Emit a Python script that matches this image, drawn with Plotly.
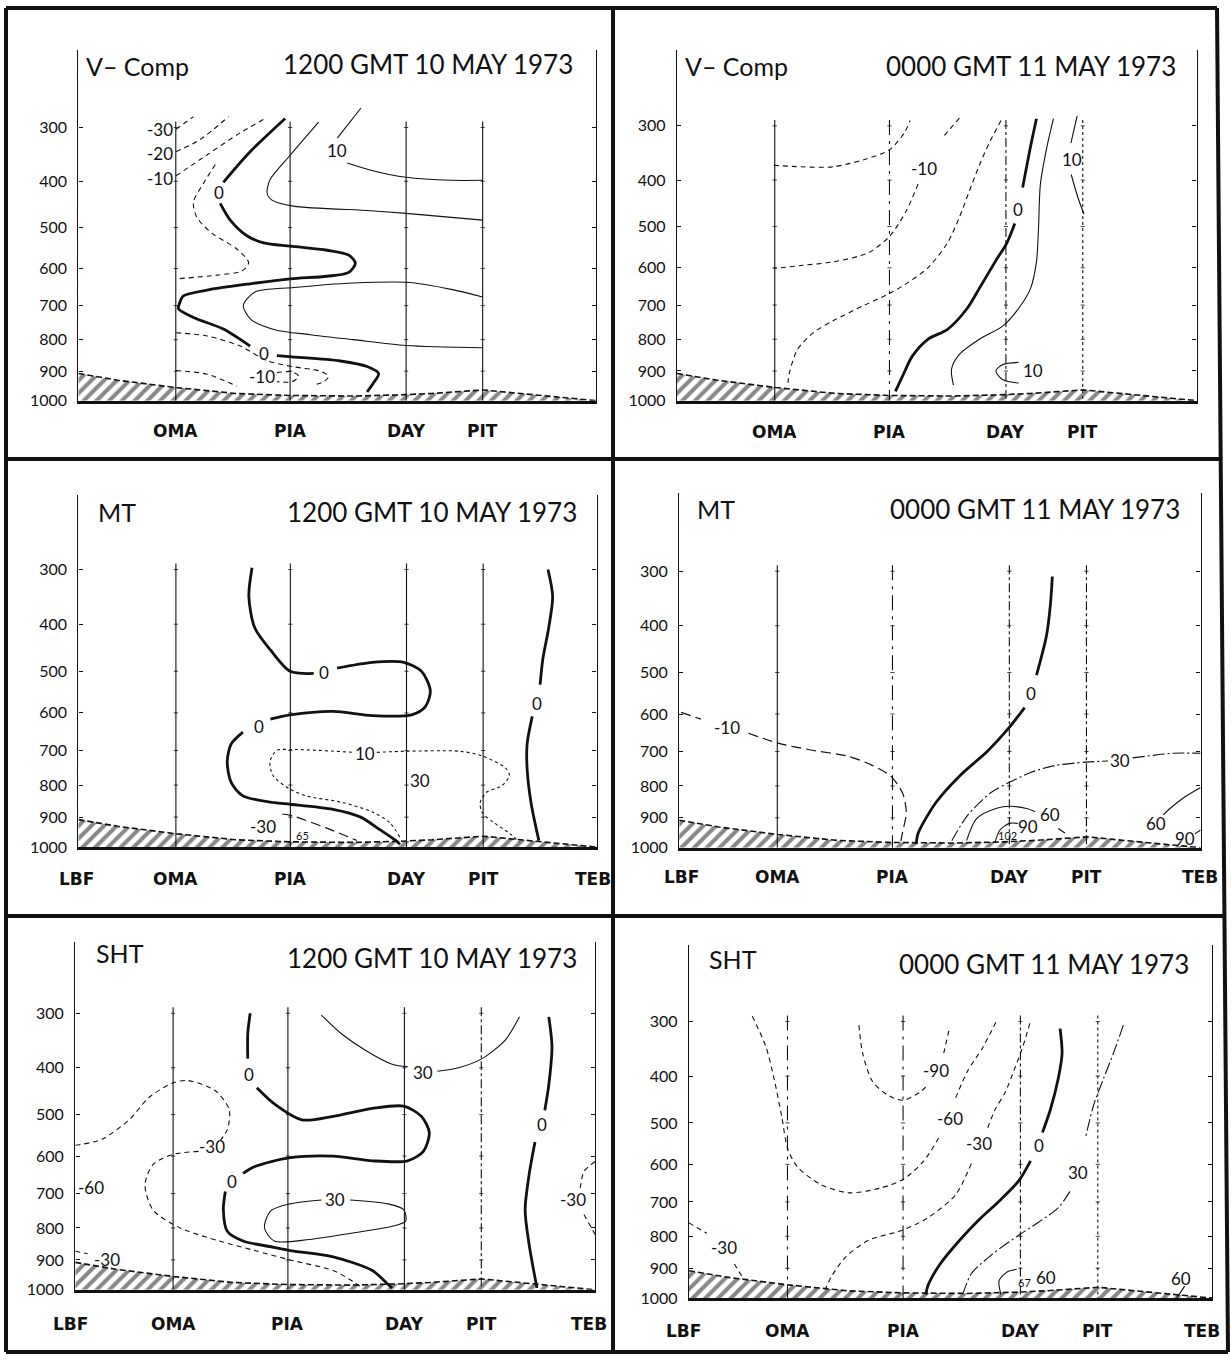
import plotly.graph_objects as go

W, H = 1231, 1369

# ---------------- data ----------------
STATIONS = ["LBF", "OMA", "PIA", "DAY", "PIT", "TEB"]
STATION_KM = [0, 397, 863, 1336, 1648, 2110]
LEVELS = [300, 400, 500, 600, 700, 800, 900, 1000]
TERRAIN_KM = [0, 160, 400, 640, 860, 1120, 1310, 1440, 1650, 1760, 1920, 2110]
TERRAIN_P = [908, 930, 955, 975, 982, 984, 980, 975, 963, 972, 985, 1000]

FIELDS = ["V\u2013 Comp", "V\u2013 Comp", "MT", "MT", "SHT", "SHT"]
TIMES = ["1200 GMT 10 MAY 1973", "0000 GMT 11 MAY 1973",
         "1200 GMT 10 MAY 1973", "0000 GMT 11 MAY 1973",
         "1200 GMT 10 MAY 1973", "0000 GMT 11 MAY 1973"]

# ---- panel 1: V-comp 1200 GMT ----
P1_ZERO_KM = [843, 700, 591, None, 578, 619, 687, 755, 864, 1014, 1102, 1129, 1102, 1014, 864, 700, 524, 428, 412, 408, 469, 591, 700, None, 809, 871, 1068, 1177, 1224, 1204, 1177]
P1_ZERO_P = [285, 343, 402, None, 446, 483, 519, 536, 544, 554, 566, 586, 610, 620, 627, 640, 657, 673, 694, 709, 734, 768, 820, None, 850, 854, 867, 885, 908, 938, 970]
P1_M30_KM = [398, 469]
P1_M30_P = [303, 282]
P1_M20_KM = [398, 496, 612]
P1_M20_P = [343, 321, 282]
P1_M10_KM = [398, 524, 660, 762]
P1_M10_P = [389, 349, 309, 285]
P1_LOOP_KM = [558, 510, 469, 483, 544, 646, 694, 667, 564, 398]
P1_LOOP_P = [367, 404, 443, 477, 513, 551, 585, 606, 617, 627]
P1_LOW1_KM = [398, 524, 660, 769, 871, 986, 1020, 1000, 959]
P1_LOW1_P = [779, 789, 820, 866, 885, 900, 917, 935, 946]
P1_LOW2_KM = [398, 524, 646]
P1_LOW2_P = [898, 910, 950]
P1_SMALL_KM = [809, 871, 898, 871, 809]
P1_SMALL_P = [905, 902, 917, 935, 935]
P1_TENA_KM = [979, 864, 782, 769, 789, 877, 1190, 1336, 1648]
P1_TENA_P = [291, 349, 396, 424, 439, 452, 462, 468, 483]
P1_TENB_KM = [1152, 1056, None, 1096, 1200, 1336, 1520, 1648]
P1_TENB_P = [268, 318, None, 364, 379, 392, 398, 398]
P1_TENC_KM = [1648, 1520, 1336, 1120, 880, 720, 672, 704, 800, 944, 1120, 1336, 1648]
P1_TENC_P = [676, 655, 636, 638, 650, 662, 700, 740, 770, 785, 800, 818, 825]
P1_LBL_TEXT = ["-30", "-20", "-10", "0", "10", "0", "-10"]
P1_LBL_KM = [333, 333, 333, 575, 1056, 758, 748]
P1_LBL_P = [303, 346, 395, 424, 340, 842, 918]

# ---- panel 2: V-comp 0000 GMT ----
P2_A_KM = [393, 505, 634, 762, 863, 923, 947]
P2_A_P = [371, 374, 374, 360, 342, 312, 291]
P2_B_KM = [1147, 1083, None, 979, 931, 863, 778, 634, 505, 393]
P2_B_P = [287, 318, None, 408, 465, 523, 562, 585, 594, 602]
P2_C_KM = [1316, 1268, 1228, 1187, 1147, 1099, 1019, 923, 863, 762, 634, 554, 489, 457, 449]
P2_C_P = [291, 330, 371, 423, 479, 538, 600, 645, 668, 700, 745, 780, 832, 905, 953]
P2_ZERO_KM = [1460, 1436, 1404, None, 1372, 1340, 1292, 1228, 1179, 1099, 1019, 955, 923, 887]
P2_ZERO_P = [288, 336, 415, None, 493, 538, 585, 654, 709, 770, 800, 853, 905, 968]
P2_TEN_KM = [1529, 1500, 1476, 1468, 1460, 1436, 1388, 1324, 1228, 1147, 1115, 1123]
P2_TEN_P = [288, 342, 408, 508, 585, 654, 709, 760, 800, 847, 894, 947]
P2_LOOP_KM = [1388, 1324, 1295, 1324, 1388]
P2_LOOP_P = [872, 879, 900, 929, 940]
P2_PIT_KM = [1625, 1600, None, 1601, 1629, 1653]
P2_PIT_P = [284, 330, None, 389, 437, 472]
P2_LBL_TEXT = ["-10", "0", "10", "10"]
P2_LBL_KM = [1003, 1385, 1444, 1606]
P2_LBL_P = [378, 461, 900, 360]

# ---- panel 3: MT 1200 GMT ----
P3_ZEROA_KM = [707, 694, 718, 782, 862, 958, None, 1053, 1197, 1325, 1397, 1433, 1412, 1357, 1197, 1037, 862, 782, None, 670, 622, 606, 622, 670, 798, 862, 1037, 1149, 1229, 1293, 1309]
P3_ZEROA_P = [297, 347, 407, 453, 500, 505, None, 493, 480, 480, 500, 546, 585, 605, 607, 596, 605, 616, None, 650, 682, 731, 792, 833, 854, 859, 875, 900, 942, 978, 990]
P3_ZEROB_KM = [1912, 1931, 1915, 1891, 1880, None, 1848, 1827, 1827, 1843, 1875]
P3_ZEROB_P = [300, 347, 407, 473, 531, None, 609, 682, 751, 854, 978]
P3_TEN_KM = [1309, 1268, 1201, 1079, 929, 861, 793, 780, 807, 868, 1120, None, 1215, 1336, 1553, 1644, 1740, 1755, 1724, 1660, 1636, 1644, 1692, 1755, 1795]
P3_TEN_P = [966, 918, 885, 854, 833, 812, 772, 731, 700, 697, 705, None, 705, 702, 702, 715, 750, 772, 802, 823, 854, 885, 918, 953, 983]
P3_M30_KM = [830, 868, 1011, 1133]
P3_M30_P = [890, 895, 936, 977]
P3_LBL_TEXT = ["0", "0", "0", "10", "30", "-30", "65"]
P3_LBL_KM = [1002, 734, 1867, 1167, 1390, 751, 912]
P3_LBL_P = [502, 635, 577, 708, 787, 930, 960]

# ---- panel 4: MT 0000 GMT ----
P4_M10_KM = [8, 88, None, 280, 400, 527, 687, 783, 855, 903, 919, 903, 895]
P4_M10_P = [596, 613, None, 650, 677, 695, 714, 740, 770, 820, 882, 951, 988]
P4_ZERO_KM = [1510, 1502, 1486, 1446, None, 1398, 1334, 1246, 1135, 1039, 967, 959]
P4_ZERO_P = [309, 360, 421, 506, None, 584, 636, 700, 770, 851, 951, 988]
P4_THIRTY_KM = [1103, 1167, 1262, 1334, 1422, 1518, 1646, 1735, None, 1835, 1998, 2110]
P4_THIRTY_P = [976, 892, 820, 790, 760, 740, 730, 727, None, 718, 705, 705]
P4_SIXTY_KM = [1163, 1204, 1285, 1338, 1406, 1440, None, 1534, 1561]
P4_SIXTY_P = [976, 902, 869, 863, 870, 880, None, 935, 950]
P4_NINETY_KM = [1278, 1298, 1336, 1370]
P4_NINETY_P = [982, 940, 918, 918]
P4_RSIXTY_KM = [2110, 2040, 1986, 1959]
P4_RSIXTY_P = [805, 837, 870, 890]
P4_RNINETY_KM = [2110, 2087]
P4_RNINETY_P = [940, 953]
P4_LBL_TEXT = ["-10", "0", "30", "60", "90", "102", "60", "90"]
P4_LBL_KM = [192, 1422, 1782, 1500, 1410, 1328, 1929, 2047]
P4_LBL_P = [636, 549, 725, 890, 930, 958, 918, 970]

# ---- panel 5: SHT 1200 GMT ----
P5_ZEROA_KM = [710, 700, 700, None, 737, 808, 920, 1047, 1206, 1333, 1405, 1437, 1413, 1349, 1206, 1047, 872, 729, 681, None, 609, 601, 617, 681, 808, 872, 1047, 1206, 1270, 1286]
P5_ZEROA_P = [300, 335, 382, None, 441, 476, 512, 504, 486, 481, 504, 542, 588, 612, 612, 600, 604, 627, 645, None, 694, 746, 810, 840, 860, 870, 890, 935, 982, 994]
P5_ZEROB_KM = [1922, 1935, 1922, 1906, None, 1866, 1842, 1826, 1842, 1874]
P5_ZEROB_P = [306, 359, 435, 490, None, 565, 649, 746, 850, 994]
P5_THIRTYA_KM = [999, 1079, 1174, 1286, 1350, None, 1470, 1556, 1651, 1747, 1803]
P5_THIRTYA_P = [303, 335, 365, 393, 398, None, 407, 400, 382, 346, 306]
P5_THIRTYB_KM = [1000, 872, 792, 768, 808, 951, 1126, 1286, 1341, 1333, 1270, 1115]
P5_THIRTYB_P = [718, 729, 750, 800, 840, 835, 815, 795, 779, 746, 729, 718]
P5_M30_KM = [0, 108, 220, 299, 395, 458, 570, 625, 617, 590, None, 500, 395, 315, 283, 315, 426, 585, 729, 872, 1047, 1126, 1166]
P5_M30_P = [573, 558, 511, 462, 431, 426, 448, 489, 535, 560, None, 588, 596, 622, 675, 746, 800, 840, 870, 900, 935, 971, 994]
P5_M30L_KM = [0, 50]
P5_M30L_P = [872, 880]
P5_M30R_KM = [2110, 2065, 2049, None, 2065, 2110]
P5_M30R_P = [614, 640, 690, None, 760, 820]
P5_LBL_TEXT = ["0", "0", "0", "30", "30", "-30", "-60", "-30", "-30"]
P5_LBL_KM = [705, 636, 1893, 1410, 1055, 554, 64, 129, 2022]
P5_LBL_P = [414, 667, 523, 410, 718, 577, 684, 900, 718]

# ---- panel 6: SHT 0000 GMT ----
P6_M60_KM = [255, 310, 342, 374, 398, 438, 533, 645, 772, 863, 947, 1011, None, 1075, 1122, 1186, 1242]
P6_M60_P = [291, 344, 403, 486, 561, 607, 653, 675, 662, 639, 591, 530, None, 445, 391, 344, 297]
P6_M90_KM = [685, 700, 740, 804, 863, 931, 963, None, 1027, 1051]
P6_M90_P = [306, 356, 411, 440, 450, 433, 418, None, 356, 309]
P6_M30_KM = [1374, 1345, 1313, 1274, 1234, 1202, None, 1138, 1075, 963, 863, 724, 629, 573, 549]
P6_M30_P = [303, 345, 385, 434, 470, 515, None, 598, 680, 745, 781, 812, 866, 929, 971]
P6_ZERO_KM = [1496, 1504, 1489, 1457, 1425, None, 1377, 1329, 1250, 1170, 1091, 1011, 963, 955]
P6_ZERO_P = [312, 356, 404, 470, 522, None, 591, 643, 698, 750, 812, 888, 958, 988]
P6_THIRTY_KM = [1751, 1711, 1672, 1632, 1600, None, 1536, 1489, 1409, 1329, 1218, 1138, 1106]
P6_THIRTY_P = [306, 356, 404, 459, 530, None, 671, 716, 758, 797, 858, 918, 982]
P6_SIXTY_KM = [1258, 1250, 1282, 1321]
P6_SIXTY_P = [988, 941, 912, 903]
P6_RSIXTY_KM = [1998, 1966]
P6_RSIXTY_P = [959, 1000]
P6_M30L_KM = [0, 72, None, 183, 215]
P6_M30L_P = [760, 791, None, 886, 929]
P6_LBL_TEXT = ["-90", "-60", "-30", "0", "30", "67", "60", "60", "-30"]
P6_LBL_KM = [995, 1051, 1170, 1409, 1568, 1353, 1441, 1982, 143]
P6_LBL_P = [389, 490, 549, 552, 621, 946, 929, 935, 834]

# ---------------- styles / layout ----------------
STYLE = {
    "thick": dict(width=2.8, dash="solid"),
    "thin": dict(width=1.1, dash="solid"),
    "dash": dict(width=1.1, dash="5px,4px"),
    "longdash": dict(width=1.2, dash="10px,5px"),
    "dot": dict(width=1.1, dash="3px,3px"),
    "dashdot": dict(width=1.1, dash="12px,3px,2px,3px"),
}

PANEL_CONTOURS = [
    [(P1_ZERO_KM, P1_ZERO_P, "thick"), (P1_M30_KM, P1_M30_P, "dash"), (P1_M20_KM, P1_M20_P, "dash"),
     (P1_M10_KM, P1_M10_P, "dash"), (P1_LOOP_KM, P1_LOOP_P, "dash"), (P1_LOW1_KM, P1_LOW1_P, "dash"),
     (P1_LOW2_KM, P1_LOW2_P, "dash"), (P1_SMALL_KM, P1_SMALL_P, "dash"), (P1_TENA_KM, P1_TENA_P, "thin"),
     (P1_TENB_KM, P1_TENB_P, "thin"), (P1_TENC_KM, P1_TENC_P, "thin")],
    [(P2_A_KM, P2_A_P, "dash"), (P2_B_KM, P2_B_P, "dash"), (P2_C_KM, P2_C_P, "dash"),
     (P2_ZERO_KM, P2_ZERO_P, "thick"), (P2_TEN_KM, P2_TEN_P, "thin"), (P2_LOOP_KM, P2_LOOP_P, "thin"),
     (P2_PIT_KM, P2_PIT_P, "thin")],
    [(P3_ZEROA_KM, P3_ZEROA_P, "thick"), (P3_ZEROB_KM, P3_ZEROB_P, "thick"), (P3_TEN_KM, P3_TEN_P, "dot"),
     (P3_M30_KM, P3_M30_P, "longdash")],
    [(P4_M10_KM, P4_M10_P, "longdash"), (P4_ZERO_KM, P4_ZERO_P, "thick"), (P4_THIRTY_KM, P4_THIRTY_P, "dashdot"),
     (P4_SIXTY_KM, P4_SIXTY_P, "thin"), (P4_NINETY_KM, P4_NINETY_P, "thin"), (P4_RSIXTY_KM, P4_RSIXTY_P, "thin"),
     (P4_RNINETY_KM, P4_RNINETY_P, "thin")],
    [(P5_ZEROA_KM, P5_ZEROA_P, "thick"), (P5_ZEROB_KM, P5_ZEROB_P, "thick"), (P5_THIRTYA_KM, P5_THIRTYA_P, "thin"),
     (P5_THIRTYB_KM, P5_THIRTYB_P, "thin"), (P5_M30_KM, P5_M30_P, "dash"), (P5_M30L_KM, P5_M30L_P, "dash"),
     (P5_M30R_KM, P5_M30R_P, "dash")],
    [(P6_M60_KM, P6_M60_P, "dash"), (P6_M90_KM, P6_M90_P, "dash"), (P6_M30_KM, P6_M30_P, "dash"),
     (P6_ZERO_KM, P6_ZERO_P, "thick"), (P6_THIRTY_KM, P6_THIRTY_P, "dashdot"), (P6_SIXTY_KM, P6_SIXTY_P, "thin"),
     (P6_RSIXTY_KM, P6_RSIXTY_P, "thin"), (P6_M30L_KM, P6_M30L_P, "dash")],
]
PANEL_LABELS = [
    (P1_LBL_TEXT, P1_LBL_KM, P1_LBL_P), (P2_LBL_TEXT, P2_LBL_KM, P2_LBL_P),
    (P3_LBL_TEXT, P3_LBL_KM, P3_LBL_P), (P4_LBL_TEXT, P4_LBL_KM, P4_LBL_P),
    (P5_LBL_TEXT, P5_LBL_KM, P5_LBL_P), (P6_LBL_TEXT, P6_LBL_KM, P6_LBL_P),
]
SMALL_LABELS = {"65", "102", "67"}

# pixel geometry of each panel (layout only); ldx/rdx: LBF/TEB label offsets in px
GEOM = [
    dict(xl=78.4, xr=596.0, yt=50.0, y300=128.3, y1000=403.3, fy=66, ty=64, fx=84, txr=575, sy=434, ldx=0, rdx=0),
    dict(xl=677.0, xr=1196.5, yt=50.0, y300=126.7, y1000=403.3, fy=66, ty=66, fx=683, txr=1178, sy=435, ldx=0, rdx=0),
    dict(xl=78.4, xr=596.6, yt=498.3, y300=573.3, y1000=852.7, fy=515, ty=515, fx=96, txr=579, sy=885, ldx=-2, rdx=-4),
    dict(xl=679.2, xr=1200.6, yt=496.7, y300=575.0, y1000=853.3, fy=512, ty=512, fx=695, txr=1182, sy=883, ldx=2, rdx=-1),
    dict(xl=75.3, xr=595.1, yt=948.3, y300=1020.0, y1000=1298.3, fy=959, ty=964, fx=94, txr=579, sy=1333, ldx=-5, rdx=-6),
    dict(xl=689.0, xr=1212.4, yt=951.7, y300=1028.3, y1000=1306.7, fy=965, ty=970, fx=707, txr=1191, sy=1340, ldx=-6, rdx=-10),
]
STATION_LINE_DASH = [
    ["solid", "solid", "solid", "solid"],
    ["solid", "longdashdot", "dashdot", "dot"],
    ["solid", "solid", "solid", "solid"],
    ["solid", "longdashdot", "dashdot", "dashdot"],
    ["solid", "solid", "solid", "dashdot"],
    ["longdashdot", "longdashdot", "dashdot", "dot"],
]
STATION_LABELS_SHOWN = [
    ["OMA", "PIA", "DAY", "PIT"], ["OMA", "PIA", "DAY", "PIT"],
    STATIONS, STATIONS, STATIONS, STATIONS,
]

FONT = "Lato, 'Open Sans', sans-serif"
INK = "#111111"


def tp(p):
    return None if p is None else p ** 0.4


def px_x(x):
    return x / W


def px_y(y):
    return 1 - y / H


fig = go.Figure()
layout = dict(
    width=W, height=H, margin=dict(l=0, r=0, t=0, b=0),
    paper_bgcolor="white", plot_bgcolor="rgba(0,0,0,0)",
    showlegend=False, hovermode=False,
)
annotations = []
shapes = []

for i, g in enumerate(GEOM):
    n = i + 1
    xa, ya = f"x{n}", f"y{n}"
    s = (tp(1000) - tp(300)) / (g["y1000"] - g["y300"])
    t_top = tp(300) - s * (g["y300"] - g["yt"])
    layout[f"xaxis{n}"] = dict(
        domain=[px_x(g["xl"]), px_x(g["xr"])], range=[0, STATION_KM[-1]],
        anchor=ya, showline=True, linewidth=2.6, linecolor=INK, mirror=False,
        showgrid=False, zeroline=False, showticklabels=False, ticks="",
    )
    layout[f"yaxis{n}"] = dict(
        domain=[px_y(g["y1000"]), px_y(g["yt"])], range=[tp(1000), t_top],
        anchor=xa, showline=True, linewidth=1.4, linecolor=INK, mirror="ticks",
        showgrid=False, zeroline=False, ticks="inside", ticklen=4, tickwidth=1,
        tickcolor=INK, tickvals=[tp(p) for p in LEVELS], ticktext=[str(p) for p in LEVELS],
        tickfont=dict(family=FONT, size=16, color=INK), ticklabelstandoff=7,
    )

    # terrain hatch
    fig.add_trace(go.Scatter(
        x=TERRAIN_KM + [STATION_KM[-1], 0], y=[tp(p) for p in TERRAIN_P] + [tp(1000), tp(1000)],
        xaxis=xa, yaxis=ya, mode="lines", fill="toself", line=dict(width=0),
        fillcolor="white",
        fillpattern=dict(shape="/", size=9, solidity=0.45, fgcolor=INK, bgcolor="white"),
    ))
    fig.add_trace(go.Scatter(
        x=TERRAIN_KM, y=[tp(p) for p in TERRAIN_P], xaxis=xa, yaxis=ya, mode="lines",
        line=dict(color=INK, width=1.6, dash="6px,3px"),
    ))

    # station verticals with faint level ticks
    for k, st in enumerate(["OMA", "PIA", "DAY", "PIT"]):
        km = STATION_KM[STATIONS.index(st)]
        fig.add_trace(go.Scatter(
            x=[km, km], y=[tp(290), tp(1000)], xaxis=xa, yaxis=ya, mode="lines",
            line=dict(color=INK, width=1.1, dash=STATION_LINE_DASH[i][k]),
        ))
        fig.add_trace(go.Scatter(
            x=[km] * (len(LEVELS) - 1), y=[tp(p) for p in LEVELS[:-1]], xaxis=xa, yaxis=ya,
            mode="markers", marker=dict(symbol="line-ew", size=3, line=dict(color=INK, width=0.8)),
        ))

    # contours
    for kms, ps, sty in PANEL_CONTOURS[i]:
        st = STYLE[sty]
        fig.add_trace(go.Scatter(
            x=kms, y=[tp(p) for p in ps], xaxis=xa, yaxis=ya, mode="lines",
            line=dict(color=INK, width=st["width"], dash=st["dash"], shape="spline", smoothing=0.8),
            connectgaps=False,
        ))

    # contour labels
    txts, kms, ps = PANEL_LABELS[i]
    for t, km, p in zip(txts, kms, ps):
        annotations.append(dict(
            x=km, y=tp(p), xref=xa, yref=ya, text=t, showarrow=False,
            xanchor="center", yanchor="middle",
            font=dict(family=FONT, size=11 if t in SMALL_LABELS else 17, color=INK),
        ))

    # station labels
    for st in STATION_LABELS_SHOWN[i]:
        km = STATION_KM[STATIONS.index(st)]
        frac = km / STATION_KM[-1]
        xpx = g["xl"] + frac * (g["xr"] - g["xl"])
        if st == "LBF":
            xpx += g["ldx"]
        elif st == "TEB":
            xpx += g["rdx"]
        annotations.append(dict(
            x=px_x(xpx), y=px_y(g["sy"]), xref="paper", yref="paper", text=f"<b>{st}</b>",
            xanchor="center", yanchor="middle",
            showarrow=False, font=dict(family="'DejaVu Sans', sans-serif", size=17, color=INK),
        ))

    # panel titles
    annotations.append(dict(
        x=px_x(g["fx"]), y=px_y(g["fy"]), xref="paper", yref="paper", text=FIELDS[i],
        xanchor="left", yanchor="middle", showarrow=False,
        font=dict(family=FONT, size=25, color=INK),
    ))
    annotations.append(dict(
        x=px_x(g["txr"]), y=px_y(g["ty"]), xref="paper", yref="paper", text=TIMES[i],
        xanchor="right", yanchor="middle", showarrow=False,
        font=dict(family=FONT, size=26, color=INK),
    ))

# frame (scan is slightly skewed: right edge leans outward toward the bottom)
FRAME_L, FRAME_T, FRAME_B = 6, 8, 1361
FRAME_R_TOP, FRAME_R_BOT = 1217, 1228
DIV_X, DIV_Y1, DIV_Y2 = 613, 462, 922
for x0, y0, x1, y1 in [
    (FRAME_L, FRAME_T, FRAME_R_TOP, FRAME_T), (FRAME_L, FRAME_B, FRAME_R_BOT, FRAME_B),
    (FRAME_L, FRAME_T, FRAME_L, FRAME_B), (FRAME_R_TOP, FRAME_T, FRAME_R_BOT, FRAME_B),
    (DIV_X, FRAME_T, DIV_X, FRAME_B), (FRAME_L, DIV_Y1, 1222, DIV_Y1),
    (FRAME_L, DIV_Y2, 1225, DIV_Y2),
]:
    shapes.append(dict(type="line", xref="paper", yref="paper",
                       x0=px_x(x0), y0=px_y(y0), x1=px_x(x1), y1=px_y(y1),
                       line=dict(color=INK, width=4)))

layout["annotations"] = annotations
layout["shapes"] = shapes
fig.update_layout(**layout)

fig.write_html("out.html", config={"displayModeBar": False},
               post_script="document.body.style.margin='0';")
